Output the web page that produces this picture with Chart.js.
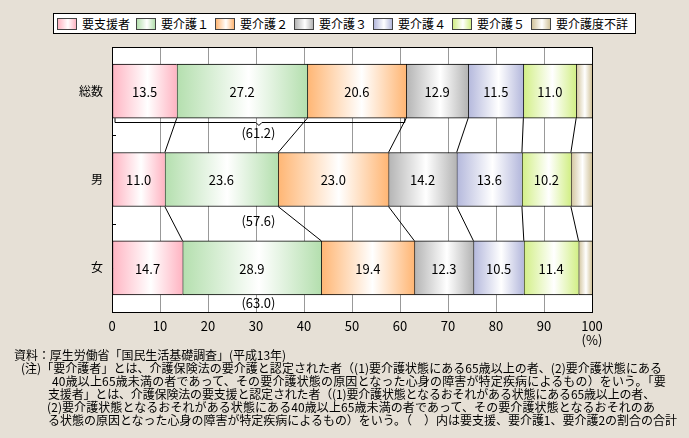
<!DOCTYPE html>
<html>
<head>
<meta charset="utf-8">
<script src="https://cdn.jsdelivr.net/npm/chart.js@4.4.1/dist/chart.umd.min.js"></script>
<style>
  body { margin: 0; background: #e6e0d6; }
  #wrap { position: relative; width: 689px; height: 438px; overflow: hidden; font-family: "Noto Sans CJK JP", sans-serif; }
  #chart { position: absolute; left: 0; top: 0; }
  #legend { position: absolute; left: 53px; top: 13px; width: 583px; height: 21px; box-sizing: border-box;
    background: #fff; border: 1px solid #000; display: flex; align-items: center; padding-left: 3px; }
  .item { display: flex; align-items: center; margin-right: 6px; font-size: 12px; line-height: 12px; white-space: nowrap; }
  .sw { width: 20px; height: 12px; box-sizing: border-box; border: 1px solid #444; margin-right: 5px; }
  .note { position: absolute; font-size: 12px; line-height: 12px; white-space: nowrap; color: #000; }
</style>
</head>
<body>
<div id="wrap">
  <canvas id="chart" width="689" height="438"></canvas>
  <div id="legend"></div>
</div>
<script>
// categories and series (percent)
const categories = ['総数', '男', '女'];
const seriesNames = ['要支援者', '要介護１', '要介護２', '要介護３', '要介護４', '要介護５', '要介護度不詳'];
const yoshien = [13.5, 11.0, 14.7];
const kaigo1 = [27.2, 23.6, 28.9];
const kaigo2 = [20.6, 23.0, 19.4];
const kaigo3 = [12.9, 14.2, 12.3];
const kaigo4 = [11.5, 13.6, 10.5];
const kaigo5 = [11.0, 10.2, 11.4];
const fusho = [3.3, 4.4, 2.8];
const subtotals = [61.2, 57.6, 63.0];   // 要支援+要介護1+要介護2
const xTicks = [0, 10, 20, 30, 40, 50, 60, 70, 80, 90, 100];

const seriesValues = [yoshien, kaigo1, kaigo2, kaigo3, kaigo4, kaigo5, fusho];
const colors = ['#ffb4c2', '#b4dfae', '#ffb674', '#b4b4b4', '#b4b8dc', '#d2ef86', '#d2c49c'];
const FONT = '"Noto Sans CJK JP", sans-serif';

// y axis: blank slot between every category
const yLabels = [''];
categories.forEach(c => yLabels.push(c, ''));
const spread = vals => { const out = [null]; vals.forEach(v => out.push(v, null)); return out; };

// legend
const legend = document.getElementById('legend');
seriesNames.forEach((name, i) => {
  const it = document.createElement('div');
  it.className = 'item';
  const sw = document.createElement('div');
  sw.className = 'sw';
  sw.style.background = `linear-gradient(to right, ${colors[i]}, #fff 55%, ${colors[i]})`;
  const tx = document.createElement('span');
  tx.textContent = name;
  it.appendChild(sw); it.appendChild(tx);
  legend.appendChild(it);
});

function barFill(i) {
  return c => {
    const chart = c.chart;
    if (!chart.chartArea || c.type !== 'data' || c.raw == null) return colors[i];
    let start = 0;
    for (let k = 0; k < i; k++) start += chart.data.datasets[k].data[c.dataIndex] || 0;
    const xs = chart.scales.x;
    const x0 = xs.getPixelForValue(start), x1 = xs.getPixelForValue(start + c.raw);
    const g = chart.ctx.createLinearGradient(x0, 0, x1, 0);
    g.addColorStop(0, colors[i]);
    g.addColorStop(0.55, '#ffffff');
    g.addColorStop(1, colors[i]);
    return g;
  };
}

const decor = {
  id: 'decor',
  beforeDraw(chart) {
    const { ctx, chartArea: a } = chart;
    ctx.save();
    ctx.fillStyle = '#fff';
    ctx.fillRect(a.left, a.top, a.right - a.left, a.bottom - a.top);
    ctx.restore();
  },
  beforeDatasetsDraw(chart) {
    const { ctx, chartArea: a, scales: { y } } = chart;
    ctx.save();
    ctx.strokeStyle = '#000';
    ctx.lineWidth = 1;
    yLabels.forEach((l, i) => {
      const py = Math.round(y.getPixelForValue(i)) + 0.5;
      ctx.beginPath(); ctx.moveTo(a.left, py); ctx.lineTo(a.left + 4, py); ctx.stroke();
    });
    ctx.restore();
  },
  afterDatasetsDraw(chart) {
    const { ctx, chartArea: a, scales: { x } } = chart;
    const metas = chart.data.datasets.map((d, i) => chart.getDatasetMeta(i));
    ctx.save();
    // value labels
    ctx.fillStyle = '#000';
    ctx.font = '13px ' + FONT;
    ctx.textAlign = 'center';
    ctx.textBaseline = 'middle';
    metas.slice(0, 6).forEach(m => {
      m.data.forEach((el, j) => {
        const v = m._dataset.data[j];
        if (v == null) return;
        ctx.fillText(v.toFixed(1), (el.x + el.base) / 2, el.y + 1);
      });
    });
    // connecting lines between bars
    ctx.strokeStyle = '#000';
    ctx.lineWidth = 1;
    for (let c = 0; c < categories.length - 1; c++) {
      const ia = 1 + c * 2, ib = ia + 2;
      metas.slice(0, 6).forEach(m => {
        const ea = m.data[ia], eb = m.data[ib];
        ctx.beginPath();
        ctx.moveTo(ea.x, ea.y + ea.height / 2);
        ctx.lineTo(eb.x, eb.y - eb.height / 2);
        ctx.stroke();
      });
    }
    // bracket under the first bar
    const e0 = metas[0].data[1];
    const bottom0 = e0.y + e0.height / 2;
    const by = Math.round(bottom0 + 4) + 0.5;
    const bx0 = x.getPixelForValue(0) + 3, bx1 = x.getPixelForValue(subtotals[0]) - 1;
    const bm = x.getPixelForValue(subtotals[0] / 2);
    ctx.beginPath();
    ctx.moveTo(bx0, bottom0); ctx.lineTo(bx0, by); ctx.lineTo(bm - 3, by);
    ctx.lineTo(bm, by + 3); ctx.lineTo(bm + 3, by); ctx.lineTo(bx1, by); ctx.lineTo(bx1, bottom0);
    ctx.stroke();
    // subtotal labels
    ctx.font = '13px ' + FONT;
    subtotals.forEach((s, c) => {
      const el = metas[0].data[1 + c * 2];
      const b = el.y + el.height / 2;
      const ty = Math.min(b + 15, (b + a.bottom) / 2);
      ctx.fillText('(' + s.toFixed(1) + ')', x.getPixelForValue(30.5), ty);
    });
    ctx.restore();
  },
  afterDraw(chart) {
    const { ctx, chartArea: a, scales: { x } } = chart;
    ctx.save();
    ctx.strokeStyle = '#000';
    ctx.lineWidth = 1;
    ctx.strokeRect(Math.round(a.left) + 0.5, Math.round(a.top) + 0.5, Math.round(a.right - a.left), Math.round(a.bottom - a.top));
    ctx.fillStyle = '#000';
    ctx.font = '13px ' + FONT;
    ctx.textAlign = 'center';
    ctx.textBaseline = 'middle';
    ctx.fillText('(%)', x.getPixelForValue(100), 340);
    ctx.restore();
  }
};

new Chart(document.getElementById('chart'), {
  type: 'bar',
  data: {
    labels: yLabels,
    datasets: seriesValues.map((vals, i) => ({
      label: seriesNames[i],
      data: spread(vals),
      backgroundColor: barFill(i),
      borderColor: '#000',
      borderWidth: { left: 1, top: 1, bottom: 1, right: 0 },
      borderSkipped: false,
      barThickness: 54
    }))
  },
  options: {
    indexAxis: 'y',
    responsive: false,
    animation: false,
    layout: { padding: { top: 47, right: 97, left: 0, bottom: 0 } },
    plugins: { legend: { display: false }, tooltip: { enabled: false } },
    scales: {
      x: {
        stacked: true, min: 0, max: 100,
        afterBuildTicks: s => { s.ticks = xTicks.map(v => ({ value: v })); },
        ticks: { color: '#000', font: { size: 13, family: FONT }, padding: 6, maxRotation: 0 },
        grid: { color: '#999', drawTicks: false },
        border: { display: true, color: '#000' },
        afterFit: s => { s.height = 126; }
      },
      y: {
        stacked: true, offset: false,
        ticks: { color: '#000', font: { size: 12, family: FONT }, padding: 9, autoSkip: false },
        grid: { display: false, drawTicks: false },
        border: { display: true, color: '#000' },
        afterFit: s => { s.width = 112; }
      }
    }
  },
  plugins: [decor]
});

// notes under the chart
const notes = [
  ['資料：厚生労働省「国民生活基礎調査」(平成13年)', 14, 286, 355],
  ['(注)「要介護者」とは、介護保険法の要介護と認定された者（(1)要介護状態にある65歳以上の者、(2)要介護状態にある', 21, 662, 368],
  ['40歳以上65歳未満の者であって、その要介護状態の原因となった心身の障害が特定疾病によるもの）をいう。「要', 52, 666, 381],
  ['支援者」とは、介護保険法の要支援と認定された者（(1)要介護状態となるおそれがある状態にある65歳以上の者、', 48, 655, 394],
  ['(2)要介護状態となるおそれがある状態にある40歳以上65歳未満の者であって、その要介護状態となるおそれのあ', 47, 655, 407],
  ['る状態の原因となった心身の障害が特定疾病によるもの）をいう。（　）内は要支援、要介護1、要介護2の割合の合計', 48, 677, 420]
];
const wrap = document.getElementById('wrap');
notes.forEach(([t, l, r, cy]) => {
  const d = document.createElement('div');
  d.className = 'note';
  d.textContent = t;
  d.style.left = l + 'px';
  d.style.top = (cy - 6) + 'px';
  wrap.appendChild(d);
  const w = d.getBoundingClientRect().width;
  d.style.letterSpacing = ((r - l - w) / t.length) + 'px';
});
</script>
</body>
</html>
